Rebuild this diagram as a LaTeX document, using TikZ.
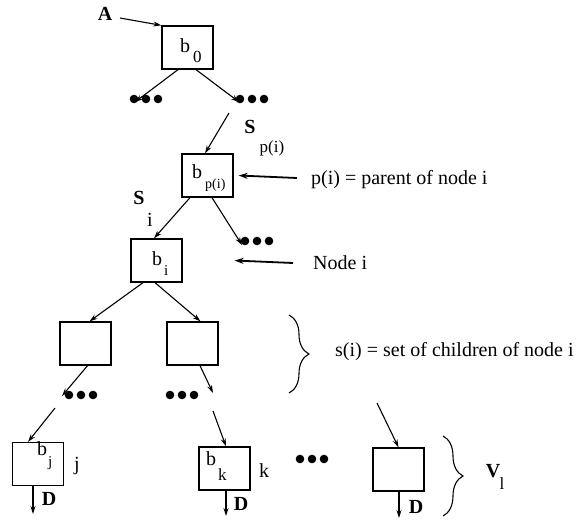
\documentclass[tikz,border=0pt]{standalone}
\usepackage{fontspec}
\setmainfont{Liberation Serif}
\usetikzlibrary{arrows.meta,decorations.pathreplacing}
\begin{document}
\begin{tikzpicture}[x=1pt,y=-1pt,
  box/.style={draw,line width=1.3pt,minimum width=51pt,minimum height=43pt,inner sep=0pt},
  conn/.style={line width=1.1pt,-{Stealth[length=8pt,width=5pt]}},
  thick conn/.style={line width=1.8pt,-{Stealth[length=9pt,width=6pt]}},
  txt/.style={inner sep=0pt,font=\fontsize{20}{23}\selectfont},
  btxt/.style={inner sep=0pt,font=\fontsize{20}{23}\selectfont\bfseries},
  stxt/.style={inner sep=0pt,font=\fontsize{17}{19}\selectfont},
  brc/.style={decorate,line width=1.1pt,decoration={brace,amplitude=20pt}},
  dots/.pic={\fill (-12,0) circle (4.3) (0,0) circle (4.3) (12,0) circle (4.3);}
]
\useasboundingbox (0,0) rectangle (579,523);
% boxes
\node[box] (b0) at (187.5,47.5) {};
\node[box] (bp) at (207.5,175.5) {};
\node[box] (bi) at (156.5,260.5) {};
\node[box] (c1) at (85.5,343.5) {};
\node[box] (c2) at (192.5,343.5) {};
\node[box] (bj) at (38,464) {};
\node[box] (bk) at (224.5,468.5) {};
\node[box] (bl) at (398.5,469.5) {};
% box texts
\node[txt,anchor=base west] (t0) at (180,52) {b\kern3pt\raisebox{-10pt}{\fontsize{17}{17}\selectfont 0}};
\node[txt,anchor=base west] (tp) at (192,178) {b\kern3pt\raisebox{-10pt}{\fontsize{14}{14}\selectfont p(i)}};
\node[txt,anchor=base west] (ti) at (152,265) {b\kern2pt\raisebox{-10pt}{\fontsize{15}{15}\selectfont i}};
\node[txt,anchor=base west] (tj) at (37,455) {b\kern1pt\raisebox{-11pt}{\fontsize{15}{15}\selectfont j}};
\node[txt,anchor=base west] (tk) at (206,465) {b\kern2pt\raisebox{-15pt}{\fontsize{17}{17}\selectfont k}};
% dots
\coordinate (d1) at (146,99);
\coordinate (d2) at (252,99);
\coordinate (d3) at (257,241);
\coordinate (d4) at (81,395);
\coordinate (d5) at (182,395);
\coordinate (d6) at (312,459);
\foreach \d in {d1,d2,d3,d4,d5,d6} \pic at (\d) {dots};
% free ends
\coordinate (a0) at (120,18);
\coordinate (sp0) at (229,113);
\coordinate (pt0) at (297,178);
\coordinate (nt0) at (293,263);
\coordinate (j0) at (55,408);
\coordinate (k0) at (213,411);
\coordinate (l0) at (377,403);
\coordinate (dj) at (33,514);
\coordinate (dk) at (226,516);
\coordinate (dl) at (399,518);
% connectors
\draw[conn] (a0) -- (b0.north west);
\draw[conn] ([xshift=-9.5pt]b0.south) -- ([xshift=-11pt,yshift=-3pt]d1);
\draw[conn] ([xshift=8.5pt]b0.south) -- ([xshift=-13pt,yshift=-3pt]d2);
\draw[conn] (sp0) -- ([xshift=-2.5pt]bp.north);
\draw[thick conn] (pt0) -- ([xshift=5pt]bp.east);
\draw[conn] ([xshift=-17.5pt]bp.south) -- ([xshift=-2.5pt]bi.north);
\draw[conn] ([xshift=4.5pt]bp.south) -- ([xshift=-15pt,yshift=-4pt]d3);
\draw[thick conn] (nt0) -- ([xshift=52pt]bi.east);
\draw[conn] ([xshift=-13.5pt]bi.south) -- ([xshift=4pt]c1.north);
\draw[conn] ([xshift=-1.5pt]bi.south) -- ([xshift=8pt]c2.north);
\draw[conn] ([xshift=2pt]c1.south) -- ([xshift=-19pt,yshift=-1pt]d4);
\draw[conn] ([xshift=7.5pt]c2.south) -- ([xshift=31pt,yshift=2pt]d5);
\draw[conn] (j0) -- ([xshift=-10pt]bj.north);
\draw[conn] (k0) -- ([xshift=1.5pt]bk.north);
\draw[conn] (l0) -- (bl.north);
\draw[conn] ([xshift=-5pt]bj.south) -- (dj);
\draw[conn] ([xshift=1.5pt]bk.south) -- (dk);
\draw[conn] ([xshift=0.5pt]bl.south) -- (dl);
% labels
\node[btxt] (A) at (105,14) {A};
\node[btxt] (Sp) at (250,127) {S};
\node[stxt] (Spi) at (272,148) {p(i)};
\node[btxt] (Si) at (139,198) {S};
\node[txt] (Sii) at (150,220) {i};
\node[txt,anchor=west] (lp) at (311,180) {p(i) = parent of node i};
\node[txt,anchor=west] (ln) at (313,263) {Node i};
\node[txt,anchor=west] (ls) at (335,352) {s(i) = set of children of node i};
\node[txt] (lj) at (77,466) {j};
\node[txt] (lk) at (264,471) {k};
\node[btxt] (Dj) at (49,499) {D};
\node[btxt] (Dk) at (241,504) {D};
\node[btxt] (Dl) at (416,507) {D};
\node[btxt] (V) at (493,471) {V};
\node[stxt] (Vl) at (502,484) {l};
% braces
\draw[brc] (289,315) -- (289,393);
\draw[brc] (443,436) -- (443,516);
\end{tikzpicture}
\end{document}
